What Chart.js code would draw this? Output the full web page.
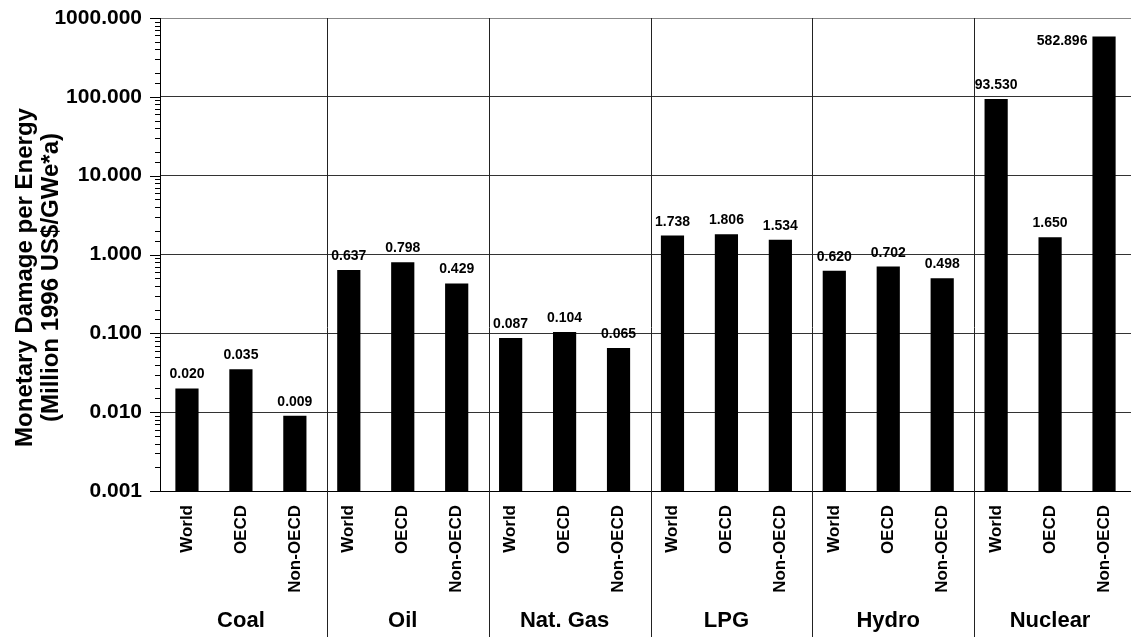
<!DOCTYPE html>
<html lang="en">
<head>
    <meta charset="UTF-8">
    <title>Monetary Damage per Energy</title>
    <script src="https://cdn.jsdelivr.net/npm/chart.js"></script>
    <style>
        body {
            margin: 0;
            padding: 0;
            background-color: #ffffff;
        }
        canvas {
            display: block;
        }
    </style>
</head>
<body>
    <canvas id="myChart" width="1131" height="637"></canvas>

    <script>
        const groups = ['Coal', 'Oil', 'Nat. Gas', 'LPG', 'Hydro', 'Nuclear'];
        const regions = ['World', 'OECD', 'Non-OECD'];
        const damage = [
            0.020, 0.035, 0.009,    // Coal
            0.637, 0.798, 0.429,    // Oil
            0.087, 0.104, 0.065,    // Nat. Gas
            1.738, 1.806, 1.534,    // LPG
            0.620, 0.702, 0.498,    // Hydro
            93.530, 1.650, 582.896  // Nuclear
        ];
        const yTicks = [0.001, 0.01, 0.1, 1, 10, 100, 1000];
        const yTitle = ['Monetary Damage per Energy', '(Million 1996 US$/GWe*a)'];

        const FONT = "'Liberation Sans', Arial, sans-serif";

        // labels along x: World / OECD / Non-OECD for each fuel
        const labels = groups.flatMap(() => regions);

        function isLabelTick(v) {
            return yTicks.some(t => Math.abs(Math.log10(v) - Math.log10(t)) < 1e-6);
        }

        const extras = {
            id: 'extras',
            afterDatasetsDraw(chart) {
                const ctx = chart.ctx;
                const area = chart.chartArea;
                const meta = chart.getDatasetMeta(0);
                ctx.save();
                ctx.fillStyle = '#000';
                ctx.font = 'bold 14px ' + FONT;
                meta.data.forEach((bar, i) => {
                    const text = damage[i].toFixed(3);
                    if (bar.y - 24 < area.top) {
                        // no room above -> put it beside the bar
                        ctx.textAlign = 'right';
                        ctx.textBaseline = 'middle';
                        ctx.fillText(text, bar.x - bar.width / 2 - 5, bar.y + 5);
                    } else {
                        ctx.textAlign = 'center';
                        ctx.textBaseline = 'alphabetic';
                        ctx.fillText(text, bar.x, bar.y - 10);
                    }
                });
                ctx.restore();
            },
            afterDraw(chart) {
                const ctx = chart.ctx;
                const area = chart.chartArea;
                const x = chart.scales.x;
                const y = chart.scales.y;
                ctx.save();

                // y tick marks (long for decades, short for the rest)
                ctx.strokeStyle = '#000';
                ctx.lineWidth = 1;
                y.ticks.forEach(t => {
                    const py = Math.round(y.getPixelForValue(t.value)) + 0.5;
                    const len = isLabelTick(t.value) ? 10 : 5;
                    ctx.beginPath();
                    ctx.moveTo(area.left - len, py);
                    ctx.lineTo(area.left, py);
                    ctx.stroke();
                });

                // group separators running down through the labels
                const step = x.getPixelForValue(1) - x.getPixelForValue(0);
                ctx.strokeStyle = '#222';
                for (let g = 1; g < groups.length; g++) {
                    const px = Math.round(x.getPixelForValue(g * regions.length) - step / 2 + 5) + 0.5;
                    ctx.beginPath();
                    ctx.moveTo(px, area.top);
                    ctx.lineTo(px, chart.height);
                    ctx.stroke();
                }

                // fuel names under each group
                ctx.fillStyle = '#000';
                ctx.font = 'bold 22px ' + FONT;
                ctx.textAlign = 'center';
                ctx.textBaseline = 'alphabetic';
                groups.forEach((name, g) => {
                    const cx = x.getPixelForValue(g * regions.length + 1);
                    ctx.fillText(name, cx, area.bottom + 136);
                });

                // y axis title, two lines
                ctx.font = 'bold 24px ' + FONT;
                const cy = (area.top + area.bottom) / 2 + 23;
                [32, 58].forEach((bx, k) => {
                    ctx.save();
                    ctx.translate(bx, cy);
                    ctx.rotate(-Math.PI / 2);
                    ctx.fillText(yTitle[k], 0, 0);
                    ctx.restore();
                });

                ctx.restore();
            }
        };

        const ctx = document.getElementById('myChart').getContext('2d');
        new Chart(ctx, {
            type: 'bar',
            data: {
                labels: labels,
                datasets: [
                    {
                        data: damage,
                        backgroundColor: '#000000',
                        borderWidth: 0,
                        barPercentage: 0.43,
                        categoryPercentage: 1.0
                    }
                ]
            },
            options: {
                responsive: false,
                animation: false,
                layout: {
                    padding: { top: 18, right: -5, bottom: 0, left: 0 }
                },
                plugins: {
                    legend: { display: false },
                    tooltip: { enabled: false }
                },
                scales: {
                    x: {
                        afterFit: function(scale) {
                            scale.height = 146;
                            scale.paddingLeft = 0;
                            scale.paddingRight = 0;
                        },
                        grid: { display: false },
                        border: { display: true, color: '#000', width: 1 },
                        ticks: {
                            autoSkip: false,
                            minRotation: 90,
                            maxRotation: 90,
                            padding: 6,
                            color: '#000',
                            font: { family: FONT, size: 17, weight: 'bold' }
                        }
                    },
                    y: {
                        type: 'logarithmic',
                        min: 0.001,
                        max: 1000,
                        afterFit: function(scale) {
                            scale.width = 160;
                            scale.paddingTop = 0;
                            scale.paddingBottom = 0;
                        },
                        border: { display: true, color: '#000', width: 1 },
                        grid: {
                            drawTicks: false,
                            color: function(c) {
                                if (!c.tick || !isLabelTick(c.tick.value)) return 'rgba(0,0,0,0)';
                                return c.tick.value >= 999 ? '#888888' : '#333333';
                            }
                        },
                        ticks: {
                            autoSkip: false,
                            padding: 18,
                            color: '#000',
                            font: { family: FONT, size: 21, weight: 'bold' },
                            callback: function(value) {
                                return isLabelTick(value) ? Number(value).toFixed(3) : '';
                            }
                        }
                    }
                }
            },
            plugins: [extras]
        });
    </script>
</body>
</html>
